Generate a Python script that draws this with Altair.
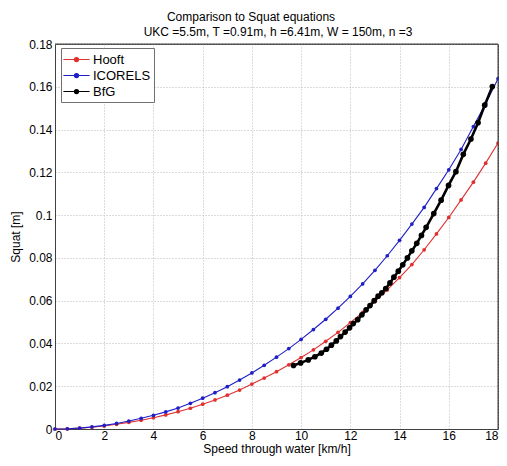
import altair as alt
import pandas as pd

# ---- data ----
speed_grid = [0, 0.5, 1, 1.5, 2, 2.5, 3, 3.5, 4, 4.5, 5, 5.5, 6, 6.5, 7, 7.5, 8, 8.5, 9,
              9.5, 10, 10.5, 11, 11.5, 12, 12.5, 13, 13.5, 14, 14.5, 15, 15.5, 16, 16.5,
              17, 17.5, 18]
hooft = [0, 0.0001, 0.0004, 0.0008, 0.0014, 0.0022, 0.0031, 0.0041, 0.0053, 0.0066,
         0.0081, 0.0097, 0.0116, 0.0136, 0.0158, 0.0182, 0.0210, 0.0238, 0.0268, 0.0300,
         0.0334, 0.0370, 0.0410, 0.0452, 0.0497, 0.0545, 0.0596, 0.0650, 0.0708, 0.0769,
         0.0838, 0.0912, 0.0989, 0.1071, 0.1154, 0.1243, 0.1337]
icorels = [0, 0.0001, 0.0004, 0.0010, 0.0017, 0.0026, 0.0037, 0.0050, 0.0064, 0.0080,
           0.0098, 0.0120, 0.0144, 0.0170, 0.0198, 0.0229, 0.0262, 0.0298, 0.0336, 0.0376,
           0.0419, 0.0465, 0.0513, 0.0565, 0.0620, 0.0678, 0.0742, 0.0810, 0.0882, 0.0958,
           0.1036, 0.1124, 0.1212, 0.1307, 0.1414, 0.1522, 0.1638]
bfg_speed = [9.69, 9.98, 10.29, 10.56, 10.82, 11.03, 11.23, 11.43, 11.60, 11.79, 11.97,
             12.12, 12.30, 12.47, 12.64, 12.80, 12.97, 13.13, 13.28, 13.44, 13.61, 13.77,
             13.95, 14.13, 14.32, 14.50, 14.70, 14.89, 15.08, 15.39, 15.69, 15.99, 16.29,
             16.59, 16.90, 17.19, 17.46, 17.77]
bfg = [0.0297, 0.0309, 0.0323, 0.0338, 0.0355, 0.0373, 0.0392, 0.0412, 0.0432, 0.0453,
       0.0473, 0.0493, 0.0511, 0.0534, 0.0557, 0.0577, 0.0600, 0.0621, 0.0637, 0.0657,
       0.0683, 0.0710, 0.0738, 0.0768, 0.0800, 0.0833, 0.0868, 0.0905, 0.0943, 0.1007,
       0.1070, 0.1139, 0.1203, 0.1284, 0.1356, 0.1432, 0.1514, 0.1601]

series_names = ["Hooft", "ICORELS", "BfG"]
series_colors = ["#e03030", "#1f1fc8", "#000000"]
title_line1 = "Comparison to Squat equations"
title_line2 = "UKC =5.5m, T =0.91m, h =6.41m, W = 150m, n =3"
x_title = "Speed through water [km/h]"
y_title = "Squat [m]"
x_ticks = [0, 2, 4, 6, 8, 10, 12, 14, 16, 18]
y_ticks = [0, 0.02, 0.04, 0.06, 0.08, 0.1, 0.12, 0.14, 0.16, 0.18]
x_max = [18]
y_max = [0.18]

thin = pd.concat([
    pd.DataFrame({"speed": speed_grid, "squat": hooft, "series": "Hooft"}),
    pd.DataFrame({"speed": speed_grid, "squat": icorels, "series": "ICORELS"}),
])
thick = pd.DataFrame({"speed": bfg_speed, "squat": bfg, "series": "BfG"})

FONT = "Liberation Sans"

legend_path = ("M-1.75,0H1.75M-0.27,0A0.27,0.27 0 1,0 0.27,0"
               "A0.27,0.27 0 1,0 -0.27,0Z")

color = alt.Color(
    "series:N",
    scale=alt.Scale(domain=series_names, range=series_colors),
    legend=alt.Legend(
        title=None, orient="none", legendX=6, legendY=4,
        symbolType=legend_path, symbolSize=225, symbolStrokeWidth=1.2,
        symbolOffset=4, labelOffset=8,
        labelFont=FONT, labelFontSize=13, labelColor="#000000",
        strokeColor="#707070", fillColor="#ffffff", padding=3,
        rowPadding=0,
    ),
)

xscale = alt.Scale(domain=[0, 18], nice=False)
yscale = alt.Scale(domain=[0, 0.18], nice=False)
x = alt.X("speed:Q", scale=xscale,
          axis=alt.Axis(values=x_ticks, title=x_title, format="~g",
                        labelPadding=1, titlePadding=2))
y = alt.Y("squat:Q", scale=yscale,
          axis=alt.Axis(values=y_ticks, title=y_title, format="~g",
                        labelPadding=3, titlePadding=6))

base_thin = alt.Chart(thin).encode(x=x, y=y, color=color, detail="series:N")
thin_lines = base_thin.mark_line(strokeWidth=1.1)
thin_pts = base_thin.mark_point(filled=True, size=14, opacity=1, shape="circle")

base_thick = alt.Chart(thick).encode(x=x, y=y, color=color)
thick_line = base_thick.mark_line(strokeWidth=2.6)
thick_pts = base_thick.mark_point(filled=True, size=32, opacity=1, shape="circle")

top_border = alt.Chart(pd.DataFrame({"v": y_max})).mark_rule(
    color="#404040", strokeWidth=1).encode(y=alt.Y("v:Q", scale=yscale))
right_border = alt.Chart(pd.DataFrame({"v": x_max})).mark_rule(
    color="#404040", strokeWidth=1).encode(x=alt.X("v:Q", scale=xscale))

t1 = alt.Chart(pd.DataFrame({"t": [title_line1]})).mark_text(
    font=FONT, fontSize=12, color="#000000", baseline="middle", align="center"
).encode(text="t:N", x=alt.value(196), y=alt.value(-27))
t2 = alt.Chart(pd.DataFrame({"t": [title_line2]})).mark_text(
    font=FONT, fontSize=12, color="#000000", baseline="middle", align="center"
).encode(text="t:N", x=alt.value(223), y=alt.value(-12))

chart = alt.layer(thin_lines, thin_pts, thick_line, thick_pts,
                  top_border, right_border, t1, t2).properties(
    width=443, height=385,
    autosize=alt.AutoSizeParams(type="none"),
    padding={"left": 47, "top": 36, "right": 1, "bottom": 29},
    background="#ffffff",
).configure_view(
    stroke="#404040", strokeWidth=1
).configure_axis(
    labelFont=FONT, titleFont=FONT, labelFontSize=12, titleFontSize=12,
    titleFontWeight="normal", labelColor="#000000", titleColor="#000000",
    domainColor="#404040", tickSize=0,
    gridColor="#b8b8b8", gridDash=[1, 2], gridWidth=1,
)

chart.save("out.html", embed_options={"renderer": "svg", "actions": False})
